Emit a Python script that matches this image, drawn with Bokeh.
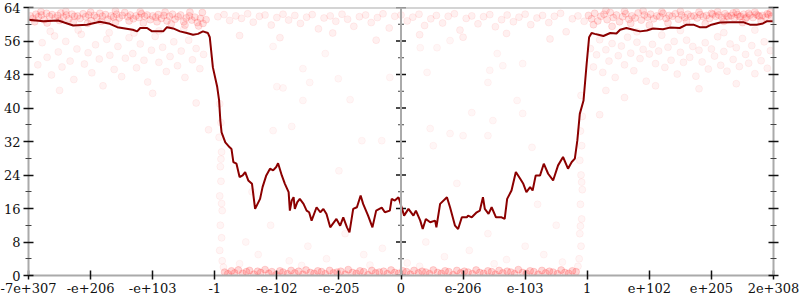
from bokeh.plotting import figure
from bokeh.models import Range1d, LinearAxis, FixedTicker, Span, ColumnDataSource
from bokeh.embed import file_html
from bokeh.resources import INLINE

# ---- axis data ----
x_ticks = [-6, -5, -4, -3, -2, -1, 0, 1, 2, 3, 4, 5, 6]
x_labels = ["-7e+307", "-e+206", "-e+103", "-1", "-e-102", "-e-205", "0",
            "e-206", "e-103", "1", "e+102", "e+205", "2e+308"]
y_ticks = [0, 8, 16, 24, 32, 40, 48, 56, 64]
y_minor = [4, 12, 20, 28, 36, 44, 52, 60]

# ---- smoothed line ----
line_x = [-6.0, -5.76, -5.52, -5.28, -5.06, -4.85, -4.69, -4.57, -4.32, -4.25, -4.2, -4.09, -4.01,
          -3.83, -3.77, -3.67, -3.56, -3.45, -3.35, -3.27, -3.19, -3.11, -3.08, -3.03, -2.96, -2.93,
          -2.91, -2.89, -2.83, -2.76, -2.73, -2.7, -2.65, -2.6, -2.55, -2.51, -2.46, -2.4, -2.35,
          -2.27, -2.23, -2.17, -2.11, -2.06, -2.01, -1.98, -1.92, -1.87, -1.81, -1.79, -1.76, -1.73,
          -1.71, -1.67, -1.63, -1.57, -1.52, -1.48, -1.44, -1.36, -1.3, -1.25, -1.2, -1.14, -1.04,
          -0.98, -0.93, -0.87, -0.83, -0.77, -0.71, -0.65, -0.61, -0.53, -0.46, -0.4, -0.31, -0.26,
          -0.18, -0.15, -0.1, -0.04, 0.01, 0.05, 0.12, 0.2, 0.24, 0.31, 0.35, 0.4, 0.47, 0.55, 0.57,
          0.63, 0.74, 0.79, 0.87, 0.92, 0.98, 1.06, 1.08, 1.14, 1.22, 1.27, 1.32, 1.35, 1.41, 1.46,
          1.53, 1.62, 1.67, 1.71, 1.78, 1.85, 1.92, 1.97, 2.02, 2.08, 2.12, 2.17, 2.24, 2.3, 2.37,
          2.45, 2.53, 2.61, 2.69, 2.75, 2.8, 2.84, 2.88, 2.94, 2.99, 3.03, 3.07, 3.12, 3.18, 3.26,
          3.37, 3.47, 3.53, 3.63, 3.74, 3.85, 3.96, 4.06, 4.22, 4.33, 4.49, 4.6, 4.71, 4.81, 4.92,
          5.0, 5.14, 5.3, 5.51, 5.62, 5.73, 5.83, 5.89, 6.0]
line_y = [61.1, 60.7, 60.9, 59.7, 59.9, 60.6, 60.1, 59.3, 58.7, 58.3, 59.1, 59.1, 58.3,
          58.3, 59.3, 59.0, 58.3, 57.9, 57.5, 57.7, 58.3, 57.9, 56.9, 49.7, 45.0, 41.8,
          37.0, 34.2, 31.8, 30.6, 30.2, 27.1, 26.7, 23.5, 23.9, 24.7, 22.7, 21.9, 15.9,
          18.3, 21.1, 23.9, 25.5, 25.1, 25.9, 26.8, 23.9, 21.9, 19.9, 15.5, 17.9, 18.7,
          15.9, 17.5, 18.3, 17.1, 15.5, 15.1, 13.1, 16.3, 15.1, 15.9, 14.7, 11.5, 13.5,
          11.9, 13.9, 11.5, 10.3, 15.9, 16.3, 19.1, 17.1, 14.3, 11.5, 15.5, 16.2, 15.1,
          15.5, 18.3, 17.9, 18.7, 16.3, 14.3, 15.9, 14.3, 15.5, 13.1, 11.1, 13.5, 12.7, 13.1, 11.5,
          17.1, 18.7, 16.3, 11.9, 11.1, 13.9, 13.9, 14.3, 13.9, 15.1, 15.5, 18.7, 15.9, 14.7, 16.3,
          13.9, 13.9, 13.5, 18.3, 20.3, 24.7, 23.1, 21.9, 19.9, 21.1, 20.3, 23.9, 23.9, 26.7, 24.3,
          22.7, 26.3, 28.3, 25.5, 27.1, 27.9, 32.2, 38.6, 41.8, 50.5, 56.9, 57.9, 57.7, 57.5, 57.2,
          57.9, 57.8, 58.7, 59.1, 58.7, 58.3, 58.5, 59.0, 58.8, 59.2, 59.1, 59.9, 59.9, 59.3, 59.3,
          59.9, 60.4, 60.5, 60.5, 59.9, 59.9, 60.2, 60.7, 60.7]

# ---- sampled points (x, bits) ----
top_left_band = [
    (-5.97, 62.0), (-5.93, 61.4), (-5.88, 62.4), (-5.84, 61.8), (-5.79, 62.2), (-5.75, 61.1),
    (-5.71, 62.6), (-5.66, 61.9), (-5.62, 62.3), (-5.57, 61.5), (-5.53, 62.1), (-5.48, 62.7),
    (-5.44, 61.7), (-5.39, 62.2), (-5.35, 61.3), (-5.30, 62.4), (-5.26, 61.9), (-5.21, 62.0),
    (-5.17, 61.4), (-5.12, 62.5), (-5.08, 61.8), (-5.03, 62.2), (-4.99, 60.9), (-4.94, 62.1),
    (-4.90, 61.6), (-4.85, 62.6), (-4.81, 61.9), (-4.76, 62.3), (-4.72, 61.2), (-4.67, 62.0),
    (-4.63, 61.7), (-4.58, 62.4), (-4.54, 61.5), (-4.49, 62.1), (-4.45, 62.8), (-4.40, 61.8),
    (-4.36, 62.2), (-4.31, 61.3), (-4.27, 62.0), (-4.22, 61.6), (-4.18, 62.5), (-4.13, 61.9),
    (-4.09, 62.2), (-4.04, 61.1), (-4.00, 62.0), (-3.95, 61.7), (-3.91, 62.3), (-3.86, 61.4),
    (-3.82, 62.1), (-3.77, 60.8), (-3.73, 61.9), (-3.68, 62.4), (-3.64, 61.2), (-3.59, 61.8),
    (-3.55, 62.2), (-3.50, 60.6), (-3.46, 61.5), (-3.41, 62.0), (-3.37, 61.0), (-3.32, 61.7),
    (-3.28, 60.4), (-3.23, 61.4), (-3.19, 60.2), (-3.14, 61.1),
    (-5.90, 60.6), (-5.70, 60.3), (-5.50, 60.9), (-5.28, 60.5), (-5.05, 60.2), (-4.83, 60.7),
    (-4.60, 60.4), (-4.38, 60.8), (-4.15, 60.3), (-3.93, 60.6), (-3.70, 60.1), (-3.48, 59.8),
    (-3.26, 59.6), (-5.80, 63.0), (-5.40, 63.1), (-5.00, 62.9), (-4.60, 63.2), (-4.20, 63.0),
    (-3.80, 62.9), (-3.40, 62.9), (-3.20, 62.8),
]
left_scatter = [
    (-5.85, 50.3), (-5.78, 55.6), (-5.70, 52.1), (-5.63, 47.9), (-5.58, 57.2), (-5.52, 53.4),
    (-5.46, 49.8), (-5.40, 55.9), (-5.33, 51.2), (-5.27, 46.8), (-5.22, 54.1), (-5.15, 57.6),
    (-5.10, 50.5), (-5.04, 53.2), (-4.98, 48.4), (-4.92, 55.1), (-4.86, 51.7), (-4.80, 45.3),
    (-4.74, 56.4), (-4.69, 52.6), (-4.62, 49.2), (-4.56, 54.7), (-4.50, 47.5), (-4.44, 51.9),
    (-4.38, 56.8), (-4.32, 53.0), (-4.26, 49.6), (-4.20, 55.3), (-4.14, 51.4), (-4.08, 46.2),
    (-4.02, 53.8), (-3.96, 57.1), (-3.90, 50.9), (-3.84, 54.5), (-3.78, 48.7), (-3.72, 52.3),
    (-3.66, 55.8), (-3.60, 50.1), (-3.54, 53.6), (-3.48, 47.3), (-3.42, 56.2), (-3.36, 51.5),
    (-3.30, 54.2), (-3.24, 49.4), (-3.18, 52.8), (-5.65, 58.3), (-5.20, 58.6), (-4.70, 58.0),
    (-4.30, 57.9), (-3.90, 58.4), (-3.50, 58.8), (-5.50, 44.2), (-4.00, 43.5), (-3.30, 41.2),
    (-3.10, 34.8),
]
middle_top_band = [
    (-2.95, 61.8), (-2.85, 62.3), (-2.76, 60.9), (-2.66, 62.0), (-2.57, 61.4), (-2.47, 62.5),
    (-2.38, 60.5), (-2.28, 61.9), (-2.19, 62.2), (-2.09, 59.8), (-2.00, 61.6), (-1.90, 62.4),
    (-1.81, 61.0), (-1.71, 62.1), (-1.62, 60.2), (-1.52, 61.7), (-1.43, 62.3), (-1.33, 58.9),
    (-1.24, 61.5), (-1.14, 62.0), (-1.05, 60.7), (-0.95, 62.4), (-0.86, 61.2), (-0.76, 59.5),
    (-0.67, 61.8), (-0.57, 62.2), (-0.48, 60.4), (-0.38, 61.6), (-0.29, 62.5), (-0.19, 59.1),
    (-0.10, 61.9), (0.00, 62.2), (0.10, 60.8), (0.19, 61.7), (0.29, 62.4), (0.38, 59.7),
    (0.48, 61.3), (0.57, 62.1), (0.67, 60.3), (0.76, 61.9), (0.86, 62.5), (0.95, 58.6),
    (1.05, 61.4), (1.14, 62.0), (1.24, 60.1), (1.33, 61.8), (1.43, 62.3), (1.52, 59.4),
    (1.62, 61.1), (1.71, 62.2), (1.81, 60.6), (1.90, 61.7), (2.00, 62.4), (2.09, 59.9),
    (2.19, 61.5), (2.28, 62.1), (2.38, 60.4), (2.47, 61.9), (2.57, 62.6), (2.66, 58.2),
    (2.76, 61.3), (2.85, 62.0), (2.95, 60.7),
    (-2.60, 57.3), (-1.95, 56.8), (-1.10, 57.9), (-0.40, 56.2), (0.30, 57.5), (1.00, 56.9),
    (1.70, 57.8), (2.40, 56.5),
]
middle_scatter = [
    (-2.06, 54.7), (-1.58, 49.4), (-2.00, 45.1), (-1.90, 44.8), (-1.47, 46.1), (-1.58, 41.8),
    (-1.01, 47.0), (-0.82, 42.0), (-1.22, 53.0), (-2.06, 34.6), (-1.76, 35.6), (-0.63, 32.2),
    (-0.31, 32.2), (-0.18, 47.3), (0.42, 48.5), (0.31, 54.4), (0.58, 54.4), (0.79, 56.1),
    (1.14, 38.9), (1.43, 49.0), (1.40, 46.1), (1.55, 53.0), (1.64, 50.1), (1.96, 50.6),
    (1.87, 41.8), (1.96, 38.7), (1.48, 37.0), (0.47, 35.1), (0.79, 33.9), (1.00, 33.4),
    (1.40, 33.4), (0.52, 31.0), (2.11, 30.6),
    (-2.50, 8.0), (-2.30, 5.0), (-2.10, 12.0), (-1.80, 3.5), (-1.50, 7.0), (-1.20, 4.0),
    (-0.90, 10.0), (-0.60, 5.0), (-0.30, 6.5), (0.10, 3.0), (0.40, 8.0), (0.70, 4.5),
    (1.10, 6.0), (1.40, 10.0), (1.70, 3.8), (2.00, 7.0), (2.30, 5.0), (2.50, 12.0),
    (-2.40, 20.0), (-1.00, 25.0), (0.90, 22.0), (2.20, 17.0), (-0.50, 2.5), (0.30, 2.2),
    (1.50, 2.8), (-1.60, 2.4), (2.60, 3.2), (-2.60, 2.8),
]
bottom_band = [
    (-2.84, 0.8), (-2.79, 0.4), (-2.73, 1.1), (-2.68, 0.6), (-2.62, 1.3), (-2.55, 0.5),
    (-2.49, 0.9), (-2.44, 1.2), (-2.37, 0.3), (-2.31, 1.0), (-2.26, 0.7), (-2.19, 1.4),
    (-2.13, 0.5), (-2.08, 0.9), (-2.01, 0.2), (-1.95, 1.1), (-1.90, 0.8), (-1.83, 0.4),
    (-1.77, 1.2), (-1.71, 0.6), (-1.65, 1.0), (-1.58, 0.3), (-1.53, 1.3), (-1.46, 0.7),
    (-1.40, 0.5), (-1.34, 1.1), (-1.28, 0.9), (-1.22, 0.4), (-1.15, 1.2), (-1.09, 0.6),
    (-1.03, 0.8), (-0.97, 1.0), (-0.90, 0.3), (-0.85, 1.4), (-0.78, 0.7), (-0.72, 0.5),
    (-0.66, 1.1), (-0.60, 0.9), (-0.53, 0.2), (-0.47, 1.2), (-0.41, 0.6), (-0.35, 0.8),
    (-0.28, 1.0), (-0.22, 0.4), (-0.16, 1.3), (-0.10, 0.7), (-0.04, 0.5), (0.03, 1.1),
    (0.09, 0.9), (0.15, 0.3), (0.21, 1.2), (0.28, 0.6), (0.34, 1.0), (0.40, 0.8),
    (0.46, 0.4), (0.52, 1.3), (0.59, 0.7), (0.65, 0.5), (0.71, 1.1), (0.77, 0.9),
    (0.84, 0.2), (0.90, 1.2), (0.96, 0.6), (1.02, 1.0), (1.08, 0.8), (1.15, 0.4),
    (1.21, 1.3), (1.27, 0.7), (1.33, 0.5), (1.40, 1.1), (1.46, 0.9), (1.52, 0.3),
    (1.58, 1.2), (1.64, 0.6), (1.71, 1.0), (1.77, 0.8), (1.83, 0.4), (1.89, 1.4),
    (1.96, 0.7), (2.02, 0.5), (2.08, 1.1), (2.14, 0.9), (2.21, 0.3), (2.27, 1.2),
    (2.33, 0.6), (2.39, 1.0), (2.45, 0.8), (2.52, 0.4), (2.58, 1.3), (2.64, 0.7),
    (2.70, 0.5), (2.76, 1.1), (2.82, 0.9),
]
edge_columns = [
    (-2.92, 41.0), (-2.90, 36.5), (-2.93, 33.0), (-2.89, 29.5), (-2.91, 26.0), (-2.90, 22.5),
    (-2.92, 19.0), (-2.88, 15.5), (-2.91, 12.0), (-2.89, 9.0), (-2.92, 6.0), (-2.88, 3.5),
    (-2.86, 2.0), (-2.90, 27.8), (-2.89, 17.2),
    (2.90, 43.0), (2.92, 38.0), (2.89, 34.5), (2.91, 31.0), (2.88, 27.5), (2.90, 24.0),
    (2.92, 20.5), (2.89, 17.0), (2.91, 13.5), (2.88, 10.0), (2.90, 7.0), (2.87, 4.0),
    (2.85, 2.2), (2.91, 22.3), (2.89, 11.8),
]
top_right_band = [
    (3.02, 62.1), (3.07, 61.3), (3.12, 62.6), (3.17, 60.8), (3.22, 61.9), (3.27, 62.4),
    (3.32, 61.1), (3.37, 62.8), (3.42, 61.6), (3.47, 62.2), (3.52, 60.6), (3.57, 61.8),
    (3.62, 62.5), (3.67, 61.2), (3.72, 62.0), (3.77, 61.5), (3.82, 62.7), (3.87, 61.0),
    (3.92, 62.2), (3.97, 61.7), (4.02, 62.4), (4.07, 61.3), (4.12, 62.0), (4.17, 61.8),
    (4.22, 62.6), (4.27, 61.4), (4.32, 62.1), (4.37, 61.9), (4.42, 62.5), (4.47, 61.2),
    (4.52, 62.2), (4.57, 61.6), (4.62, 62.4), (4.67, 61.9), (4.72, 62.0), (4.77, 61.5),
    (4.82, 62.3), (4.87, 61.8), (4.92, 62.1), (4.97, 61.4), (5.02, 62.4), (5.07, 61.9),
    (5.12, 62.2), (5.17, 61.6), (5.22, 62.5), (5.27, 61.8), (5.32, 62.1), (5.37, 61.5),
    (5.42, 62.3), (5.47, 61.9), (5.52, 62.4), (5.57, 61.7), (5.62, 62.2), (5.67, 61.6),
    (5.72, 62.4), (5.77, 61.9), (5.82, 62.1), (5.87, 61.7), (5.92, 62.3), (5.97, 61.9),
    (3.10, 59.9), (3.40, 59.5), (3.70, 60.2), (4.00, 59.8), (4.30, 60.3), (4.60, 60.6),
    (4.90, 60.1), (5.20, 60.7), (5.50, 60.4), (5.80, 60.8), (3.30, 63.3), (3.60, 63.1),
    (3.90, 63.2), (4.20, 63.0), (4.50, 63.1), (4.80, 62.9), (5.10, 63.0), (5.40, 62.9),
    (5.70, 62.9), (5.95, 62.8), (5.00, 62.6), (5.25, 62.0), (5.45, 61.8), (5.60, 62.6),
    (5.75, 62.1), (5.90, 62.5), (5.55, 61.4), (5.35, 62.7),
]
right_scatter = [
    (3.05, 54.2), (3.10, 49.8), (3.15, 52.7), (3.20, 56.3), (3.25, 48.5), (3.30, 53.9),
    (3.35, 51.2), (3.40, 55.4), (3.45, 47.3), (3.50, 52.5), (3.55, 54.8), (3.60, 50.3),
    (3.65, 56.9), (3.70, 53.1), (3.75, 48.9), (3.80, 55.7), (3.85, 51.8), (3.90, 54.0),
    (3.95, 46.4), (4.00, 52.9), (4.05, 55.2), (4.10, 50.6), (4.15, 53.6), (4.20, 57.4),
    (4.25, 49.7), (4.30, 54.5), (4.35, 51.4), (4.40, 55.9), (4.45, 48.1), (4.50, 53.3),
    (4.55, 50.9), (4.60, 56.2), (4.65, 52.1), (4.70, 54.7), (4.75, 47.6), (4.80, 53.8),
    (4.85, 51.0), (4.90, 55.6), (4.95, 49.3), (5.00, 54.1), (5.05, 52.4), (5.10, 57.0),
    (5.15, 50.2), (5.20, 53.5), (5.25, 48.8), (5.30, 55.3), (5.35, 51.6), (5.40, 54.4),
    (5.45, 49.9), (5.50, 56.6), (5.55, 52.8), (5.60, 50.7), (5.65, 54.9), (5.70, 48.2),
    (5.75, 53.2), (5.80, 51.3), (5.85, 55.8), (5.90, 49.5), (5.95, 53.7), (3.30, 44.2),
    (3.60, 42.5), (4.10, 45.3), (4.80, 44.6), (5.40, 45.8), (3.20, 38.4), (3.80, 58.2),
    (4.50, 58.5), (5.20, 58.0), (5.70, 58.6),
]

# (points, fill alpha, outline alpha): dense bands look stronger than loose points
groups = [
    (top_left_band, 0.11, 0.10),
    (left_scatter, 0.05, 0.05),
    (middle_top_band, 0.06, 0.06),
    (middle_scatter, 0.035, 0.04),
    (bottom_band, 0.16, 0.14),
    (edge_columns, 0.04, 0.05),
    (top_right_band, 0.11, 0.10),
    (right_scatter, 0.05, 0.05),
]
pts_x, pts_y, pts_fa, pts_la = [], [], [], []
for g, fa, la in groups:
    for px, py in g:
        pts_x.append(px)
        pts_y.append(py)
        pts_fa.append(fa)
        pts_la.append(la)

FONT = "DejaVu Serif"
AXIS_GRAY = "#aaaaaa"

p = figure(width=800, height=300, output_backend="svg", toolbar_location=None,
           x_range=Range1d(-6, 6), y_range=Range1d(0, 64),
           x_axis_location=None, y_axis_location=None,
           min_border_left=28, min_border_right=27, min_border_top=7, min_border_bottom=25)
p.grid.visible = False
p.outline_line_color = None
p.background_fill_color = "white"
p.border_fill_color = "white"


def style(ax, minor=True):
    ax.axis_line_color = AXIS_GRAY
    ax.axis_line_width = 2
    ax.major_tick_line_color = "#111111"
    ax.major_tick_line_width = 1.5
    ax.major_tick_in = 5
    ax.major_tick_out = 5
    ax.minor_tick_line_color = "#444444"
    ax.minor_tick_line_width = 1
    ax.minor_tick_in = 3 if minor else 0
    ax.minor_tick_out = 3 if minor else 0
    ax.major_label_text_font = FONT
    ax.major_label_text_font_size = "13px"
    ax.major_label_text_color = "#111111"
    ax.major_label_standoff = 3


left = LinearAxis(ticker=FixedTicker(ticks=y_ticks, minor_ticks=y_minor))
style(left)
p.add_layout(left, "left")

right = LinearAxis(ticker=FixedTicker(ticks=y_ticks, minor_ticks=y_minor))
style(right)
right.major_label_overrides = {t: "" for t in y_ticks}
right.major_label_standoff = 0
p.add_layout(right, "right")

bottom = LinearAxis(ticker=FixedTicker(ticks=x_ticks))
style(bottom, minor=False)
bottom.major_tick_in = 5
bottom.major_tick_out = 4
bottom.major_label_overrides = {t: s for t, s in zip(x_ticks, x_labels)}
p.add_layout(bottom, "below")

# top border and central axis
p.add_layout(Span(location=64, dimension="width", line_color=AXIS_GRAY, line_width=2))
p.add_layout(Span(location=0, dimension="height", line_color=AXIS_GRAY, line_width=2))

# points
src = ColumnDataSource(data=dict(x=pts_x, y=pts_y, fa=pts_fa, la=pts_la))
p.scatter("x", "y", source=src, size=7, fill_color="red", fill_alpha="fa",
          line_color="red", line_alpha="la")

# central axis ticks
p.scatter(x=[0] * len(y_ticks), y=y_ticks, marker="dash", size=10,
          line_color="#111111", line_width=1.5)
p.scatter(x=[0] * len(y_minor), y=y_minor, marker="dash", size=6,
          line_color="#444444", line_width=1)

# smoothed line
p.line(line_x, line_y, line_color="#8b0000", line_width=2)

open("out.html", "w").write(file_html(p, INLINE))
